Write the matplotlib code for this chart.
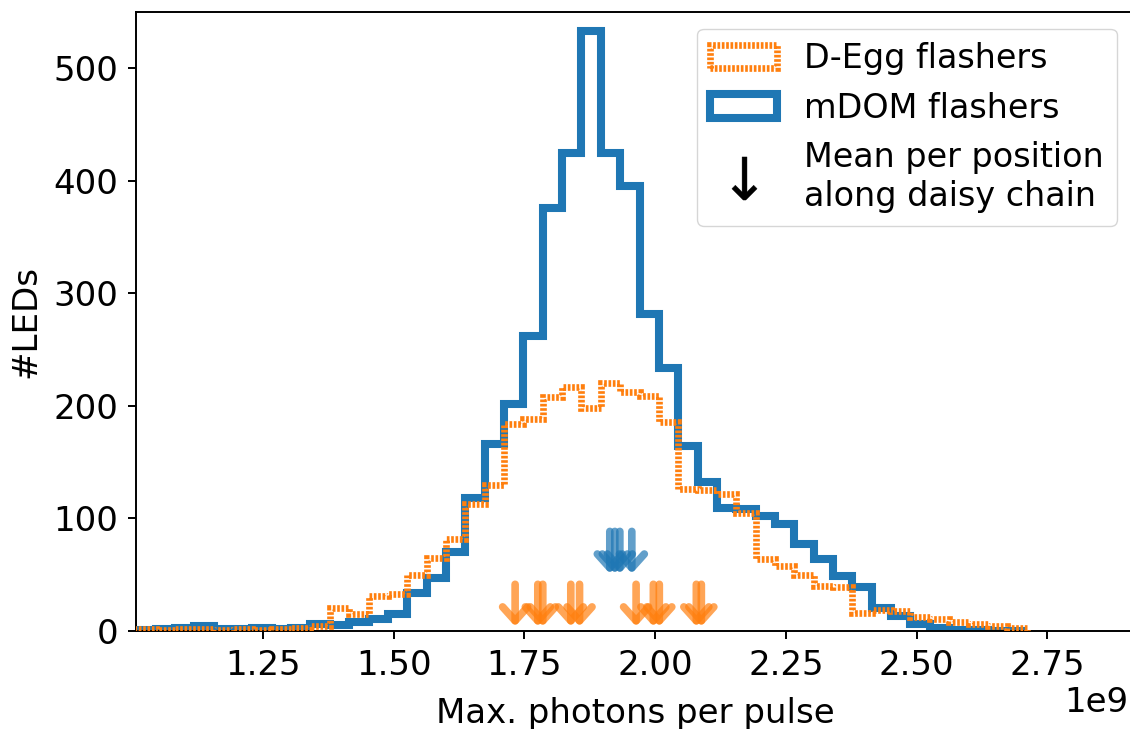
import numpy as np
import matplotlib
matplotlib.use("Agg")
import matplotlib.pyplot as plt
from matplotlib.lines import Line2D

# ---------------- data ----------------
bin_lo = 1.0076e9
bin_hi = 2.7105e9
n_bins = 46

mdom_counts = [1, 2, 3, 4, 2, 2, 3, 2, 3, 6,
               5, 8, 11, 15, 34, 47, 70, 118, 166, 202,
               262, 376, 425, 533, 425, 395, 282, 234, 164, 132,
               109, 108, 102, 95, 77, 64, 49, 39, 20, 13,
               6, 3, 1, 1, 0, 0]

degg_counts = [2, 1, 2, 2, 1, 2, 1, 2, 3, 4,
               20, 15, 31, 33, 50, 65, 82, 113, 130, 184,
               188, 208, 217, 198, 220, 212, 209, 186, 126, 125,
               122, 105, 64, 58, 50, 40, 39, 16, 19, 18,
               12, 11, 8, 6, 4, 3]

degg_means = [1.7322e9, 1.7756e9, 1.7851e9, 1.8387e9, 1.8554e9,
              1.9636e9, 1.9966e9, 2.0080e9, 2.0788e9, 2.0884e9]
mdom_means = [1.9133e9, 1.9229e9, 1.9325e9, 1.9554e9]

y_ticks = [0, 100, 200, 300, 400, 500]
x_ticks = [1.25e9, 1.50e9, 1.75e9, 2.00e9, 2.25e9, 2.50e9, 2.75e9]

# ---------------- style ----------------
BLUE = "#1f77b4"
ORANGE = "#ff7f0e"
FS = 24.5
FS_LEG = 24

fig = plt.figure(figsize=(11.3, 7.29), dpi=100)
W, H = 1130, 729
ax_l, ax_r, ax_t, ax_b = 136.3, 1133.5, 12, 631
ax = fig.add_axes([ax_l / W, (H - ax_b) / H, (ax_r - ax_l) / W, (ax_b - ax_t) / H])

edges = np.linspace(bin_lo, bin_hi, n_bins + 1)
centers = 0.5 * (edges[:-1] + edges[1:])

_, _, p_mdom = ax.hist(centers, bins=edges, weights=mdom_counts, histtype="step",
                       color=BLUE, lw=5.8, zorder=2, label="mDOM flashers")
_, _, p_degg = ax.hist(centers, bins=edges, weights=degg_counts, histtype="step",
                       color=ORANGE, lw=4.8, linestyle=(0, (0.4, 0.25)), zorder=3,
                       label="D-Egg flashers")

arrow_props = dict(arrowstyle="->,head_length=0.5,head_width=0.45", lw=5.5,
                   alpha=0.7, shrinkA=0, shrinkB=0, mutation_scale=20)
for xm in degg_means:
    ax.annotate("", xy=(xm, 4.0), xytext=(xm, 41.5),
                arrowprops=dict(color=ORANGE, **arrow_props), zorder=4)
for xm in mdom_means:
    ax.annotate("", xy=(xm, 51.0), xytext=(xm, 88.5),
                arrowprops=dict(color=BLUE, **arrow_props), zorder=4)

ax.set_xlim(bin_lo, 2.915e9)
ax.set_ylim(0, 550)
ax.set_xticks(x_ticks)
ax.set_yticks(y_ticks)
ax.tick_params(axis="both", labelsize=FS, length=5.8, width=1.4, pad=7)
for s in ax.spines.values():
    s.set_linewidth(1.4)
off = ax.xaxis.get_offset_text()
off.set_fontsize(FS)
off.set_x((1128 - ax_l) / (ax_r - ax_l))

ax.set_xlabel("Max. photons per pulse", fontsize=FS, labelpad=11)
ax.set_ylabel("#LEDs", fontsize=FS, labelpad=8)

arrow_handle = Line2D([], [], marker=r"$\downarrow$", color="black", linestyle="None",
                      markersize=31, markeredgewidth=0.3)
ax.legend([p_degg[0], p_mdom[0], arrow_handle],
          ["D-Egg flashers", "mDOM flashers", "Mean per position\nalong daisy chain"],
          loc="upper right", fontsize=FS_LEG)

fig.savefig("out.png", dpi=100)
